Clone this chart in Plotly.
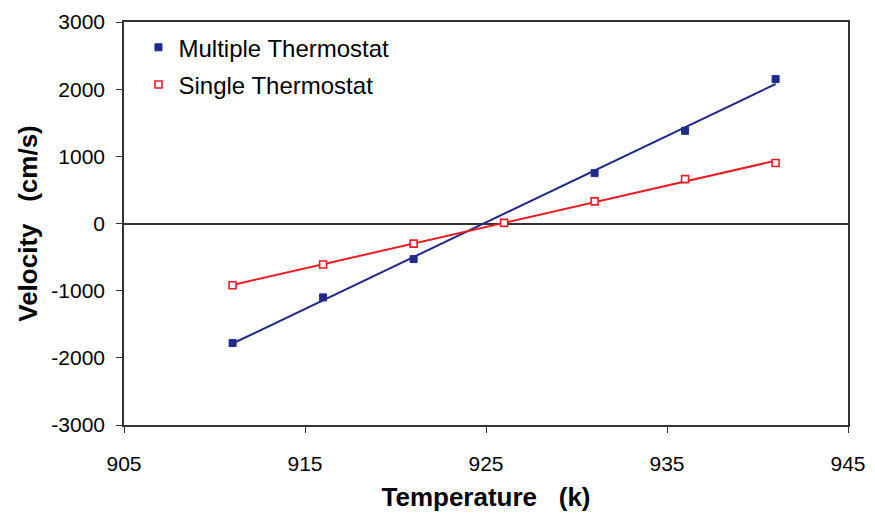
import numpy as np
import plotly.graph_objects as go

temp_multi = [911, 916, 921, 931, 936, 941]
vel_multi = [-1780, -1100, -530, 750, 1380, 2150]
temp_single = [911, 916, 921, 926, 931, 936, 941]
vel_single = [-920, -610, -300, 10, 330, 660, 900]
x_ticks = [905, 915, 925, 935, 945]
y_ticks = [-3000, -2000, -1000, 0, 1000, 2000, 3000]
y_tick_text = ["-3000", "-2000", "-1000", "0", "1000", "2000", "3000"]

blue = "#1f2a8a"
red = "#ec1c24"

def fit(x, y):
    m, b = np.polyfit(x, y, 1)
    xs = [min(x), max(x)]
    return xs, [m * v + b for v in xs]

fig = go.Figure()
fx, fy = fit(temp_multi, vel_multi)
fig.add_trace(go.Scatter(x=fx, y=fy, mode="lines", line=dict(color=blue, width=2), showlegend=False, hoverinfo="skip"))
fx, fy = fit(temp_single, vel_single)
fig.add_trace(go.Scatter(x=fx, y=fy, mode="lines", line=dict(color=red, width=2), showlegend=False, hoverinfo="skip"))

fig.add_trace(go.Scatter(x=temp_multi, y=vel_multi, mode="markers", name="Multiple Thermostat",
                         legendgroup="a",
                         marker=dict(symbol="square", size=7, color=blue, line=dict(color=blue, width=1))))
fig.add_trace(go.Scatter(x=temp_single, y=vel_single, mode="markers", name="Single Thermostat",
                         legendgroup="b",
                         marker=dict(symbol="square", size=7, color="white", line=dict(color=red, width=1.6))))

ff = "Liberation Sans, Arial"
tick_font = dict(family=ff, size=21, color="black")
title_font = dict(family=ff, size=26, color="black")
fig.update_layout(
    width=875, height=514,
    margin=dict(l=124, r=27, t=22, b=89),
    paper_bgcolor="white", plot_bgcolor="white",
    font=tick_font,
    legend=dict(x=0.02, y=0.992, xanchor="left", yanchor="top", bgcolor="rgba(0,0,0,0)",
                font=dict(family=ff, size=24, color="black"),
                traceorder="grouped", tracegroupgap=3, itemwidth=30),
    xaxis=dict(range=[905, 945], tickvals=x_ticks, ticks="outside", ticklen=6, tickcolor="#333",
               showline=True, linecolor="#333", linewidth=1.5, mirror=True, showgrid=False, zeroline=False,
               ticklabelstandoff=13, tickfont=tick_font, automargin=False,
               title=dict(text="<b>Temperature   (k)</b>", font=title_font, standoff=14)),
    yaxis=dict(range=[-3000, 3000], tickvals=y_ticks, ticktext=y_tick_text, ticks="outside", ticklen=6, tickcolor="#333",
               showline=True, linecolor="#333", linewidth=1.5, mirror=True, showgrid=False,
               zeroline=True, zerolinecolor="#333", zerolinewidth=2, ticklabelstandoff=7, tickfont=tick_font,
               automargin=False,
               title=dict(text="<b>Velocity   (cm/s)</b>", font=title_font, standoff=6)),
)
fig.write_html("out.html")
